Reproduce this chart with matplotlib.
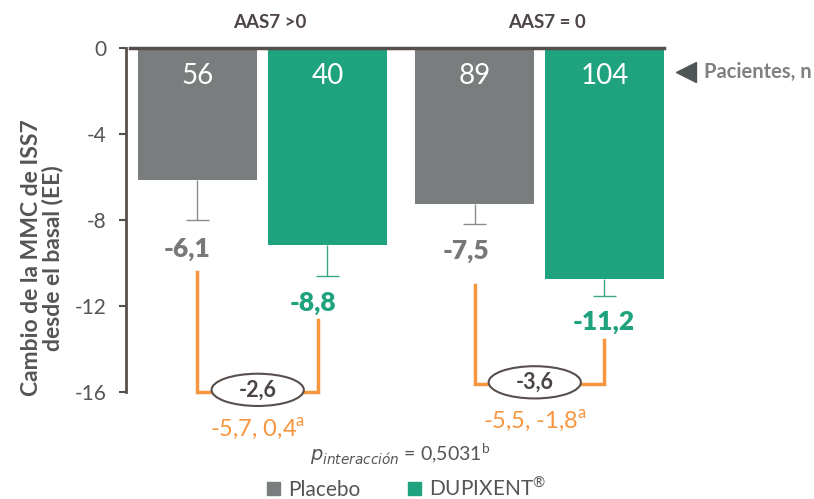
import numpy as np
import matplotlib.pyplot as plt
from matplotlib.patches import Ellipse, Patch

plt.rcParams['font.family'] = ['Lato', 'DejaVu Sans']

# data
groups = ['AAS7 >0', 'AAS7 = 0']
placebo = [-6.15, -7.25]
dupixent = [-9.15, -10.75]
placebo_se = [1.85, 0.95]
dupixent_se = [1.45, 0.8]
placebo_n = ['56', '89']
dupixent_n = ['40', '104']
placebo_lbl = ['-6,1', '-7,5']
dupixent_lbl = ['-8,8', '-11,2']
diff_lbl = ['-2,6', '-3,6']
ci_lbl = ['-5,7, 0,4$^{\\mathregular{a}}$', '-5,5, -1,8$^{\\mathregular{a}}$']
bracket_left = [-10.4, -11.0]
bracket_right = [-12.65, -13.6]
bracket_base = [-16.0, -15.65]

# label placement (layout only)
placebo_lbl_pos = [(-0.09, -9.37), (-0.07, -9.44)]
dupixent_lbl_pos = [(-0.12, -11.88), (-0.01, -12.74)]

gray = '#7a7d7d'
green = '#1fa27e'
orange = '#f7963f'
dark = '#574f4c'

fig = plt.figure(figsize=(8.14, 4.99), dpi=100)
ax = fig.add_axes([130/814, 107/499, 534/814, 344/499])

xp = np.array([0, 2.328])
xd = xp + 1.092
w = 1.0

ax.bar(xp, placebo, w, color=gray, zorder=2)
ax.bar(xd, dupixent, w, color=green, zorder=2)

# lower error bars
for x, v, se, c in zip(np.r_[xp, xd], placebo + dupixent, placebo_se + dupixent_se,
                       ['#8a8c8c'] * 2 + ['#3aa888'] * 2):
    ax.vlines(x, v - se, v, color=c, lw=1, zorder=1)
    ax.hlines(v - se, x - 0.1, x + 0.1, color=c, lw=1, zorder=1)

for i in range(2):
    ax.text(xp[i], -1.3, placebo_n[i], color='white', fontsize=20, ha='center', va='center')
    ax.text(xd[i], -1.3, dupixent_n[i], color='white', fontsize=20, ha='center', va='center')
    dx, y = placebo_lbl_pos[i]
    ax.text(xp[i] + dx, y, placebo_lbl[i], color='#777979', fontsize=19,
            fontweight='heavy', ha='center', va='center')
    dx, y = dupixent_lbl_pos[i]
    ax.text(xd[i] + dx, y, dupixent_lbl[i], color=green, fontsize=19,
            fontweight='heavy', ha='center', va='center')

    # difference bracket
    mid = (xp[i] + xd[i]) / 2 - 0.04
    ax.plot([xp[i], xp[i], xd[i] - 0.08 * (1 - i), xd[i] - 0.08 * (1 - i)],
            [bracket_left[i], bracket_base[i], bracket_base[i], bracket_right[i]],
            color=orange, lw=2.5, zorder=3, clip_on=False, solid_joinstyle='miter')
    ax.add_patch(Ellipse((mid, bracket_base[i] + 0.1), 0.775, 1.5, facecolor='white',
                         edgecolor=dark, lw=1.5, zorder=4, clip_on=False))
    ax.text(mid, bracket_base[i] + 0.1, diff_lbl[i], color='#4a4444', fontsize=15.5,
            fontweight='bold', ha='center', va='center', zorder=5)
    ax.text(mid, bracket_base[i] - 1.75 + 0.05 * i, ci_lbl[i], color=orange, fontsize=17,
            ha='center', va='center')

    ax.text((xp[i] + xd[i]) / 2 + 0.06, 1.2, groups[i], color='#4d4545', fontsize=13.5,
            fontweight='bold', ha='center', va='center')

ax.text(1.7, -18.9, '$\\mathit{p}_{\\mathit{interacción}}$ = 0,5031$^{\\mathregular{b}}$',
        color='#555555', fontsize=14, ha='center', va='center')

ax.plot([4.105], [-1.12], marker='<', markersize=15, color='#4f5455', clip_on=False)
ax.text(4.26, -1.12, 'Pacientes, n', color='#808080', fontsize=14.5, fontweight='bold',
        ha='left', va='center')

ax.set_xlim(-0.567, 3.92)
ax.set_ylim(-16, 0)
ax.set_yticks([0, -4, -8, -12, -16])
ax.set_yticklabels(['0', '-4', '-8', '-12', '-16'])
ax.tick_params(axis='y', colors=dark, labelcolor='#555555', labelsize=15, length=5, width=1.5, pad=9)
ax.set_xticks([])
for s in ['right', 'bottom']:
    ax.spines[s].set_visible(False)
ax.spines['left'].set_color(dark)
ax.spines['left'].set_linewidth(2)
ax.spines['top'].set_color(dark)
ax.spines['top'].set_linewidth(2.5)
ax.spines['left'].set_position(('outward', 3))
ax.set_ylabel('Cambio de la MMC de ISS7\ndesde el basal (EE)', fontsize=16.5,
              fontweight='bold', color='#555555', linespacing=1.0)
ax.yaxis.set_label_coords(-0.125, 0.39)

handles = [Patch(color=gray), Patch(color=green)]
fig.legend(handles, ['Placebo', 'DUPIXENT$^{\\mathregular{®}}$'], loc='center',
           bbox_to_anchor=(0.4994, 0.022), ncol=2, frameon=False, handlelength=0.6,
           handleheight=0.6, handletextpad=0.4, columnspacing=2.3, prop={'size': 15},
           labelcolor='#555555')

fig.savefig('out.png', dpi=100)
